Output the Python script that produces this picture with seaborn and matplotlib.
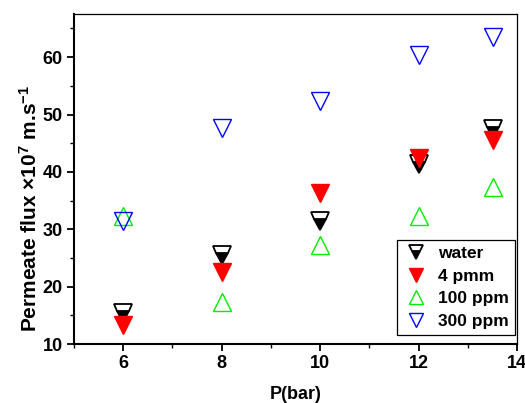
import matplotlib
matplotlib.use("Agg")
import matplotlib.pyplot as plt
import seaborn as sns
import numpy as np

pressure = [6, 8, 10, 12, 13.5]
water = [15.5, 25.5, 31.4, 41.4, 47.5]
pmm4 = [13.4, 22.5, 36.4, 42.4, 45.5]
ppm100 = [32.4, 17.4, 27.3, 32.4, 37.4]
ppm300 = [31.5, 47.6, 52.4, 60.4, 63.5]
labels = ["water", "4 pmm", "100 ppm", "300 ppm"]

sns.set_theme(style="ticks")
plt.rcParams['font.family'] = ['Liberation Sans', 'DejaVu Sans']
plt.rcParams['font.weight'] = 'bold'
plt.rcParams['text.color'] = 'black'
plt.rcParams['axes.labelcolor'] = 'black'
plt.rcParams['xtick.color'] = 'black'
plt.rcParams['ytick.color'] = 'black'
plt.rcParams['mathtext.fontset'] = 'custom'
plt.rcParams['mathtext.rm'] = 'Liberation Sans:bold'
plt.rcParams['mathtext.bf'] = 'Liberation Sans:bold'
plt.rcParams['mathtext.it'] = 'Liberation Sans:bold'

fig = plt.figure(figsize=(5.25, 4.03), dpi=100)
ax = fig.add_axes([0.141, 0.146, 0.844, 0.819])

ms = 13.5
common = dict(linestyle='', errorbar=None, markersize=ms, ax=ax)
sns.lineplot(x=pressure, y=water, marker='v', color='black', fillstyle='bottom',
             markerfacecolor='black', markerfacecoloralt='white',
             markeredgecolor='black', markeredgewidth=1.3, label=labels[0], **common)
sns.lineplot(x=pressure, y=pmm4, marker='v', color='red',
             markerfacecolor='red', markeredgecolor='red', markeredgewidth=1.0,
             label=labels[1], **common)
sns.lineplot(x=pressure, y=ppm100, marker='^', color='#00ee00',
             markerfacecolor='none', markeredgecolor='#00ee00', markeredgewidth=1.0,
             label=labels[2], **common)
sns.lineplot(x=pressure, y=ppm300, marker='v', color='blue',
             markerfacecolor='none', markeredgecolor='blue', markeredgewidth=1.0,
             label=labels[3], **common)

ax.set_xlim(5, 14)
ax.set_ylim(10, 67.5)
ax.set_xticks([6, 8, 10, 12, 14])
ax.set_xticks(np.arange(5, 14.01, 1), minor=True)
ax.set_yticks([10, 20, 30, 40, 50, 60])
ax.set_yticks(np.arange(10, 67.6, 5), minor=True)
ax.tick_params(axis='both', which='major', direction='out', length=5, width=1.3,
               labelsize=13, pad=3, top=False, right=False)
ax.tick_params(axis='both', which='minor', direction='out', length=3, width=1.0,
               top=False, right=False)
for lab in ax.get_xticklabels() + ax.get_yticklabels():
    lab.set_fontweight('bold')

for side in ['left', 'bottom']:
    ax.spines[side].set_linewidth(1.5)
for side in ['top', 'right']:
    ax.spines[side].set_visible(True)
    ax.spines[side].set_linewidth(0.9)
for s in ax.spines.values():
    s.set_color('black')

ax.set_xlabel('P(bar)', fontsize=13, fontweight='bold', labelpad=10)
ax.set_ylabel(r'Permeate flux ×10$^{7}$ m.s$^{-1}$', fontsize=15, fontweight='bold')
ax.yaxis.set_label_coords(-0.075, 0.41)

leg = ax.legend(loc='lower right', bbox_to_anchor=(0.995, 0.027), borderaxespad=0,
                frameon=True, fancybox=False, edgecolor='black', framealpha=1,
                prop={'weight': 'bold', 'size': 12.5}, handlelength=1.5,
                handletextpad=0.5, labelspacing=0.44, borderpad=0.35,
                markerscale=0.75)
leg.get_frame().set_linewidth(0.9)

fig.savefig('out.png', dpi=100)
